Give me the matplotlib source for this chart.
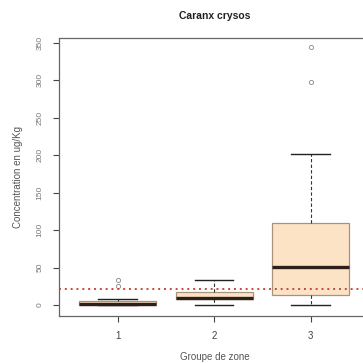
import matplotlib
matplotlib.use("Agg")
import matplotlib.pyplot as plt

plt.rcParams['font.family'] = ['Liberation Sans', 'DejaVu Sans']

# Summary statistics per zone group
groups = ["1", "2", "3"]
whislo = [0.0, 0.0, 0.0]
q1 = [0.0, 7.5, 13.7]
med = [1.0, 9.5, 51.0]
q3 = [6.0, 17.0, 109.5]
whishi = [7.5, 34.0, 202.0]
fliers = [[25.0, 34.0], [], [298.0, 343.6]]
threshold = 21.0
yticks = [0, 50, 100, 150, 200, 250, 300, 350]

stats = []
for i, g in enumerate(groups):
    stats.append(dict(label=g, whislo=whislo[i], q1=q1[i], med=med[i],
                      q3=q3[i], whishi=whishi[i], fliers=fliers[i]))

fig = plt.figure(figsize=(3.63, 3.63), dpi=100)
ax = fig.add_axes([0.1625, 0.1306, 1.0207 - 0.1625, 0.8953 - 0.1306])

ax.bxp(stats, positions=[1, 2, 3], widths=0.8, patch_artist=True,
       boxprops=dict(facecolor="#FDE3C6", edgecolor="#A8927C", linewidth=0.9),
       medianprops=dict(color="#2E2018", linewidth=2.4),
       whiskerprops=dict(color="#333333", linestyle=(0, (3, 2)), linewidth=0.8),
       capprops=dict(color="#222222", linewidth=1.0),
       capwidths=0.4,
       flierprops=dict(marker="o", markersize=3.0, markerfacecolor="none",
                       markeredgecolor="#888888", markeredgewidth=0.6))

ax.axhline(threshold, color="#C8483C", linestyle=(0, (1, 2)), linewidth=1.4)

ax.set_xlim(0.392, 3.62)
ax.set_ylim(-14.1, 356)
ax.set_yticks(yticks)
ax.set_yticklabels([str(v) for v in yticks], rotation=90, va="center",
                   fontsize=6, color="#777777")
ax.set_xticks([1, 2, 3])
ax.set_xticklabels(groups, fontsize=7, color="#444444")
ax.tick_params(axis="y", direction="out", length=4, width=0.8,
               color="#444444", pad=7)
ax.tick_params(axis="x", direction="out", length=4, width=0.8,
               color="#444444", pad=7)

for s in ax.spines.values():
    s.set_color("#666666")
    s.set_linewidth(0.9)

ax.set_title("Caranx crysos", fontsize=7.5, fontweight="bold", pad=14, color="#222222")
ax.set_xlabel("Groupe de zone", fontsize=7, color="#555555", labelpad=8)
ax.set_ylabel("Concentration en ug/Kg", fontsize=7, color="#555555", labelpad=10)

fig.savefig("out.png", dpi=100)
